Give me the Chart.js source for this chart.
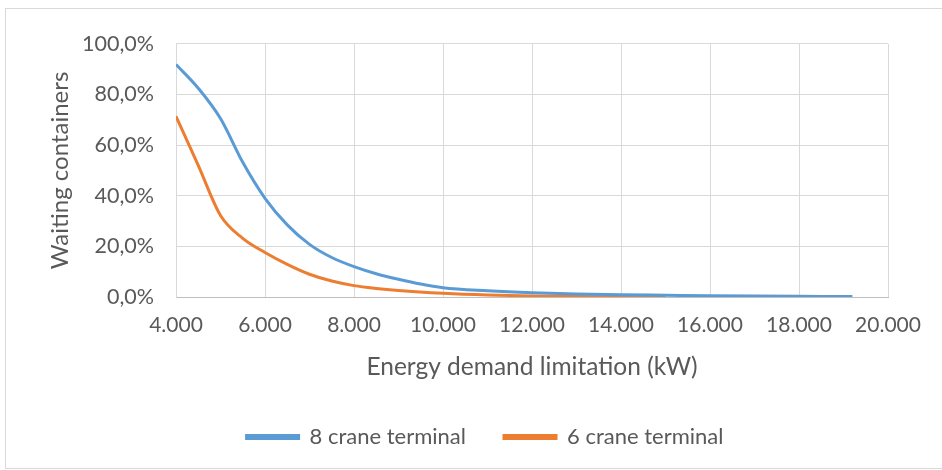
<!DOCTYPE html>
<html>
<head>
<meta charset="utf-8">
<script src="https://cdn.jsdelivr.net/npm/chart.js@4/dist/chart.umd.min.js"></script>
<style>
    body { margin: 0; background: #fff; }
    #box {
        position: absolute; left: 5px; top: 8px;
        width: 936px; height: 459px;
        border: 1px solid #d9d9d9;
    }
</style>
</head>
<body>
<div id="box"><canvas id="waitChart"></canvas></div>
<script>
"use strict";

// energy demand limitation (kW) and share of waiting containers (%)
var demand8 = [4000, 4500, 5000, 5500, 6000, 6500, 7000, 7500, 8000, 8500, 9000, 9500, 10000, 11000, 12000, 13000, 14000, 15000, 16000, 17000, 18000, 19200];
var wait8 = [91.9, 82.5, 70.5, 53.2, 39.0, 28.5, 20.8, 15.6, 12.0, 9.2, 7.0, 5.1, 3.7, 2.5, 1.7, 1.2, 0.9, 0.7, 0.5, 0.35, 0.25, 0.15];

var demand6 = [4000, 4500, 5000, 5500, 6000, 6500, 7000, 7500, 8000, 8500, 9000, 10000, 11000, 12000, 13000, 14000, 15000];
var wait6 = [71.4, 52.0, 32.2, 23.2, 17.6, 12.9, 9.0, 6.3, 4.5, 3.4, 2.6, 1.5, 0.8, 0.4, 0.2, 0.1, 0.0];

var seriesNames = ["8 crane terminal", "6 crane terminal"];

function toPoints(xs, ys) {
    return xs.map(function (x, i) { return { x: x, y: ys[i] }; });
}

var textColor = '#595959';

Chart.defaults.font.family = 'Lato, "Open Sans", sans-serif';
Chart.defaults.color = textColor;

// legend sits a bit right of the canvas centre
var legendShift = {
    id: 'legendShift',
    afterLayout: function (chart) {
        chart.legend.left += 34;
        chart.legend.right += 34;
    }
};

var ctx = document.getElementById("waitChart");
var waitChart = new Chart(ctx, {
    type: 'line',
    data: {
        datasets: [{
            label: seriesNames[0],
            data: toPoints(demand8, wait8),
            borderColor: '#5B9BD5',
            backgroundColor: '#5B9BD5',
            borderWidth: 3,
            pointRadius: 0,
            cubicInterpolationMode: 'monotone'
        }, {
            label: seriesNames[1],
            data: toPoints(demand6, wait6),
            borderColor: '#ED7D31',
            backgroundColor: '#ED7D31',
            borderWidth: 3,
            pointRadius: 0,
            cubicInterpolationMode: 'monotone'
        }]
    },
    plugins: [legendShift],
    options: {
        responsive: true,
        maintainAspectRatio: false,
        animation: false,
        layout: {
            padding: { top: 28, right: 54, bottom: 10, left: 8 }
        },
        plugins: {
            legend: {
                position: 'bottom',
                labels: {
                    boxWidth: 52,
                    boxHeight: 3,
                    padding: 38,
                    font: { size: 22 },
                    color: textColor
                }
            },
            tooltip: { enabled: false }
        },
        scales: {
            x: {
                type: 'linear',
                min: 4000,
                max: 20000,
                afterFit: function (scale) { scale.height = 91; },
                grid: { color: '#d9d9d9', drawTicks: false },
                border: { color: '#bfbfbf' },
                ticks: {
                    stepSize: 2000,
                    padding: 16,
                    font: { size: 21 },
                    callback: function (v) {
                        return v.toLocaleString('de-DE');
                    }
                },
                title: {
                    display: true,
                    text: 'Energy demand limitation (kW)',
                    font: { size: 24.5 },
                    padding: { top: 0, bottom: 6 }
                }
            },
            y: {
                min: 0,
                max: 100,
                afterFit: function (scale) { scale.width = 162; },
                grid: { color: '#d9d9d9', drawTicks: false },
                border: { color: '#d9d9d9' },
                ticks: {
                    stepSize: 20,
                    padding: 22,
                    font: { size: 21.5 },
                    callback: function (v) {
                        return v.toFixed(1).replace('.', ',') + '%';
                    }
                },
                title: {
                    display: true,
                    text: 'Waiting containers',
                    font: { size: 24 },
                    padding: { top: 32, bottom: 0 }
                }
            }
        }
    }
});
</script>
</body>
</html>
